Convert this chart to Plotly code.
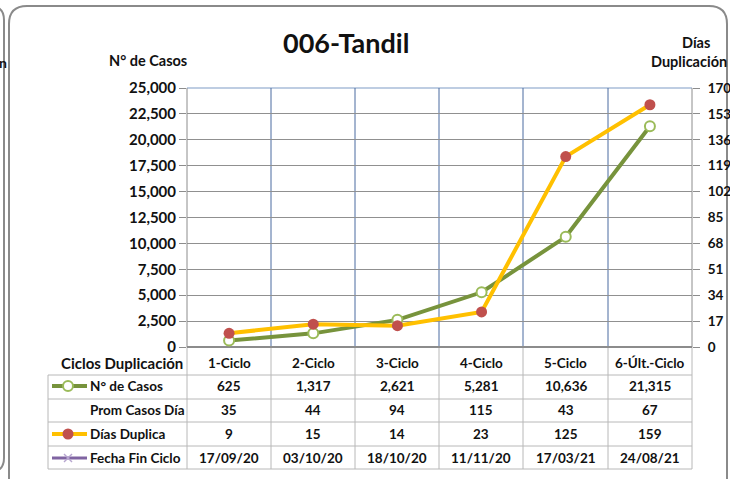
import plotly.graph_objects as go

# ---- data ----
ciclos = ["1-Ciclo", "2-Ciclo", "3-Ciclo", "4-Ciclo", "5-Ciclo", "6-Últ.-Ciclo"]
casos = [625, 1317, 2621, 5281, 10636, 21315]
prom_casos_dia = [35, 44, 94, 115, 43, 67]
dias_duplica = [9, 15, 14, 23, 125, 159]
fecha_fin = ["17/09/20", "03/10/20", "18/10/20", "11/11/20", "17/03/21", "24/08/21"]
left_ticks = [0, 2500, 5000, 7500, 10000, 12500, 15000, 17500, 20000, 22500, 25000]
right_ticks = [0, 17, 34, 51, 68, 85, 102, 119, 136, 153, 170]

W, H = 730, 479
L, R, T, B = 187, 692, 88, 347  # plot area in pixels
FONT = "Lato"

def X(px):
    return (px - L) / (R - L)

def Y(py):
    return (B - py) / (B - T)

fig = go.Figure()
fig.add_trace(go.Scatter(
    x=ciclos, y=casos, name="N° de Casos", mode="lines+markers",
    line=dict(color="#77933C", width=4),
    marker=dict(symbol="circle", size=10, color="white", line=dict(color="#9BBB59", width=2)),
    yaxis="y"))
fig.add_trace(go.Scatter(
    x=ciclos, y=dias_duplica, name="Días Duplica", mode="lines+markers",
    line=dict(color="#FFC000", width=4),
    marker=dict(symbol="circle", size=11, color="#C0504D"),
    yaxis="y2"))

shapes = []
annotations = []

def line(x0, y0, x1, y1, color, width=1):
    shapes.append(dict(type="line", xref="paper", yref="paper",
                       x0=X(x0), y0=Y(y0), x1=X(x1), y1=Y(y1),
                       line=dict(color=color, width=width), layer="below"))

def text(px, py, s, size=13.5, xanchor="center", color="#111", bold=True):
    annotations.append(dict(xref="paper", yref="paper", x=X(px), y=Y(py),
                            text=f"<b>{s}</b>" if bold else s, showarrow=False,
                            xanchor=xanchor, yanchor="middle",
                            font=dict(family=FONT, size=size, color=color)))

# outer rounded frame
def rounded(x0, y0, x1, y1, r):
    return (f"M {X(x0)},{Y(y0 + r)} Q {X(x0)},{Y(y0)} {X(x0 + r)},{Y(y0)} "
            f"L {X(x1 - r)},{Y(y0)} Q {X(x1)},{Y(y0)} {X(x1)},{Y(y0 + r)} "
            f"L {X(x1)},{Y(y1 - r)} Q {X(x1)},{Y(y1)} {X(x1 - r)},{Y(y1)} "
            f"L {X(x0 + r)},{Y(y1)} Q {X(x0)},{Y(y1)} {X(x0)},{Y(y1 - r)} Z")

shapes.append(dict(type="path", xref="paper", yref="paper", path=rounded(9, 6, 727, 500, 18),
                   line=dict(color="#8a8a8a", width=2), layer="below"))
shapes.append(dict(type="path", xref="paper", yref="paper", path=rounded(-300, 6, 4, 472, 14),
                   line=dict(color="#8a8a8a", width=2), layer="below"))

# plot area top border
line(L, T, R, T, "#a9bcd8", 1.5)
# vertical gridlines at category boundaries, extending through the table
bounds = [187, 271, 355, 439, 523, 608, 692]
for i, bx in enumerate(bounds):
    col = "#8c8c8c" if i in (0, len(bounds) - 1) else "#4a6aa0"
    line(bx, T, bx, B, col, 1)
    line(bx, B, bx, 469, "#b8b8b8", 1)
# table horizontal lines
for hy in [375, 399, 422, 446, 469]:
    line(48, hy, 692, hy, "#b8b8b8", 1)
line(48, 375, 48, 469, "#b8b8b8", 1)

# table texts
centers = [(bounds[i] + bounds[i + 1]) / 2 for i in range(6)]
text(185, 363, "Ciclos Duplicación", size=15, xanchor="right")
row_y = [386, 410, 434, 458]
labels = ["N° de Casos", "Prom Casos Día", "Días Duplica", "Fecha Fin Ciclo"]
for y, lab in zip(row_y, labels):
    text(88, y, lab, xanchor="left")
for i, c in enumerate(centers):
    text(c, 363, ciclos[i])
    text(c, row_y[0], f"{casos[i]:,}")
    text(c, row_y[1], str(prom_casos_dia[i]))
    text(c, row_y[2], str(dias_duplica[i]))
    text(c, row_y[3], fecha_fin[i])

# legend keys inside table
def key_line(py, color):
    shapes.append(dict(type="line", xref="paper", yref="paper", x0=X(52), x1=X(87),
                       y0=Y(py), y1=Y(py), line=dict(color=color, width=4), layer="above"))

def key_circle(py, fill, outline, r=5):
    shapes.append(dict(type="circle", xref="paper", yref="paper", layer="above",
                       xsizemode="pixel", ysizemode="pixel", xanchor=X(68), yanchor=Y(py),
                       x0=-r, x1=r, y0=-r, y1=r, fillcolor=fill,
                       line=dict(color=outline, width=2 if fill == "white" else 0)))

key_line(row_y[0], "#77933C")
key_circle(row_y[0], "white", "#9BBB59")
key_line(row_y[2], "#FFC000")
key_circle(row_y[2], "#C0504D", "#C0504D", 5.5)
shapes.append(dict(type="line", xref="paper", yref="paper", x0=X(52), x1=X(87),
                   y0=Y(row_y[3]), y1=Y(row_y[3]), line=dict(color="#8064A2", width=3), layer="above"))
for d in (1, -1):
    shapes.append(dict(type="line", xref="paper", yref="paper", x0=X(64), x1=X(72),
                       y0=Y(row_y[3] - 4 * d), y1=Y(row_y[3] + 4 * d),
                       line=dict(color="#b7a6d0", width=1.5), layer="above"))

# titles
text(346, 43, "006-Tandil", size=27)
text(148, 60, "N° de Casos", size=14.5)
text(696, 43, "Días", size=14.5)
text(729, 62, "Duplicación", size=14.5, xanchor="right")
text(9, 63, "n", size=14, xanchor="right")

fig.update_layout(
    width=W, height=H,
    margin=dict(l=L, r=W - R, t=T, b=H - B, autoexpand=False),
    paper_bgcolor="white", plot_bgcolor="white",
    showlegend=False,
    font=dict(family=FONT, size=13, color="#111"),
    xaxis=dict(type="category", categoryorder="array", categoryarray=ciclos,
               range=[-0.5, 5.5], showticklabels=False, showgrid=False,
               zeroline=False, showline=False, fixedrange=True, automargin=False),
    yaxis=dict(range=[0, 25000], tickvals=left_ticks, tickformat=",",
               showgrid=True, gridcolor="#909090", gridwidth=1,
               ticks="outside", ticklen=7, tickcolor="#8c8c8c", automargin=False,
               tickfont=dict(family=FONT, size=15, color="#111", weight="bold"),
               zeroline=True, zerolinecolor="#8c8c8c", showline=False),
    yaxis2=dict(range=[0, 170], tickvals=right_ticks, overlaying="y", side="right",
                showgrid=False, ticks="outside", ticklen=7, tickcolor="#8c8c8c",
                ticklabelstandoff=5, automargin=False,
                tickfont=dict(family=FONT, size=13.5, color="#111", weight="bold"),
                zeroline=False, showline=False),
    shapes=shapes, annotations=annotations,
)

fig.write_html("out.html", config={"displayModeBar": False},
               post_script="document.body.style.margin='0';document.body.style.overflow='hidden';")
